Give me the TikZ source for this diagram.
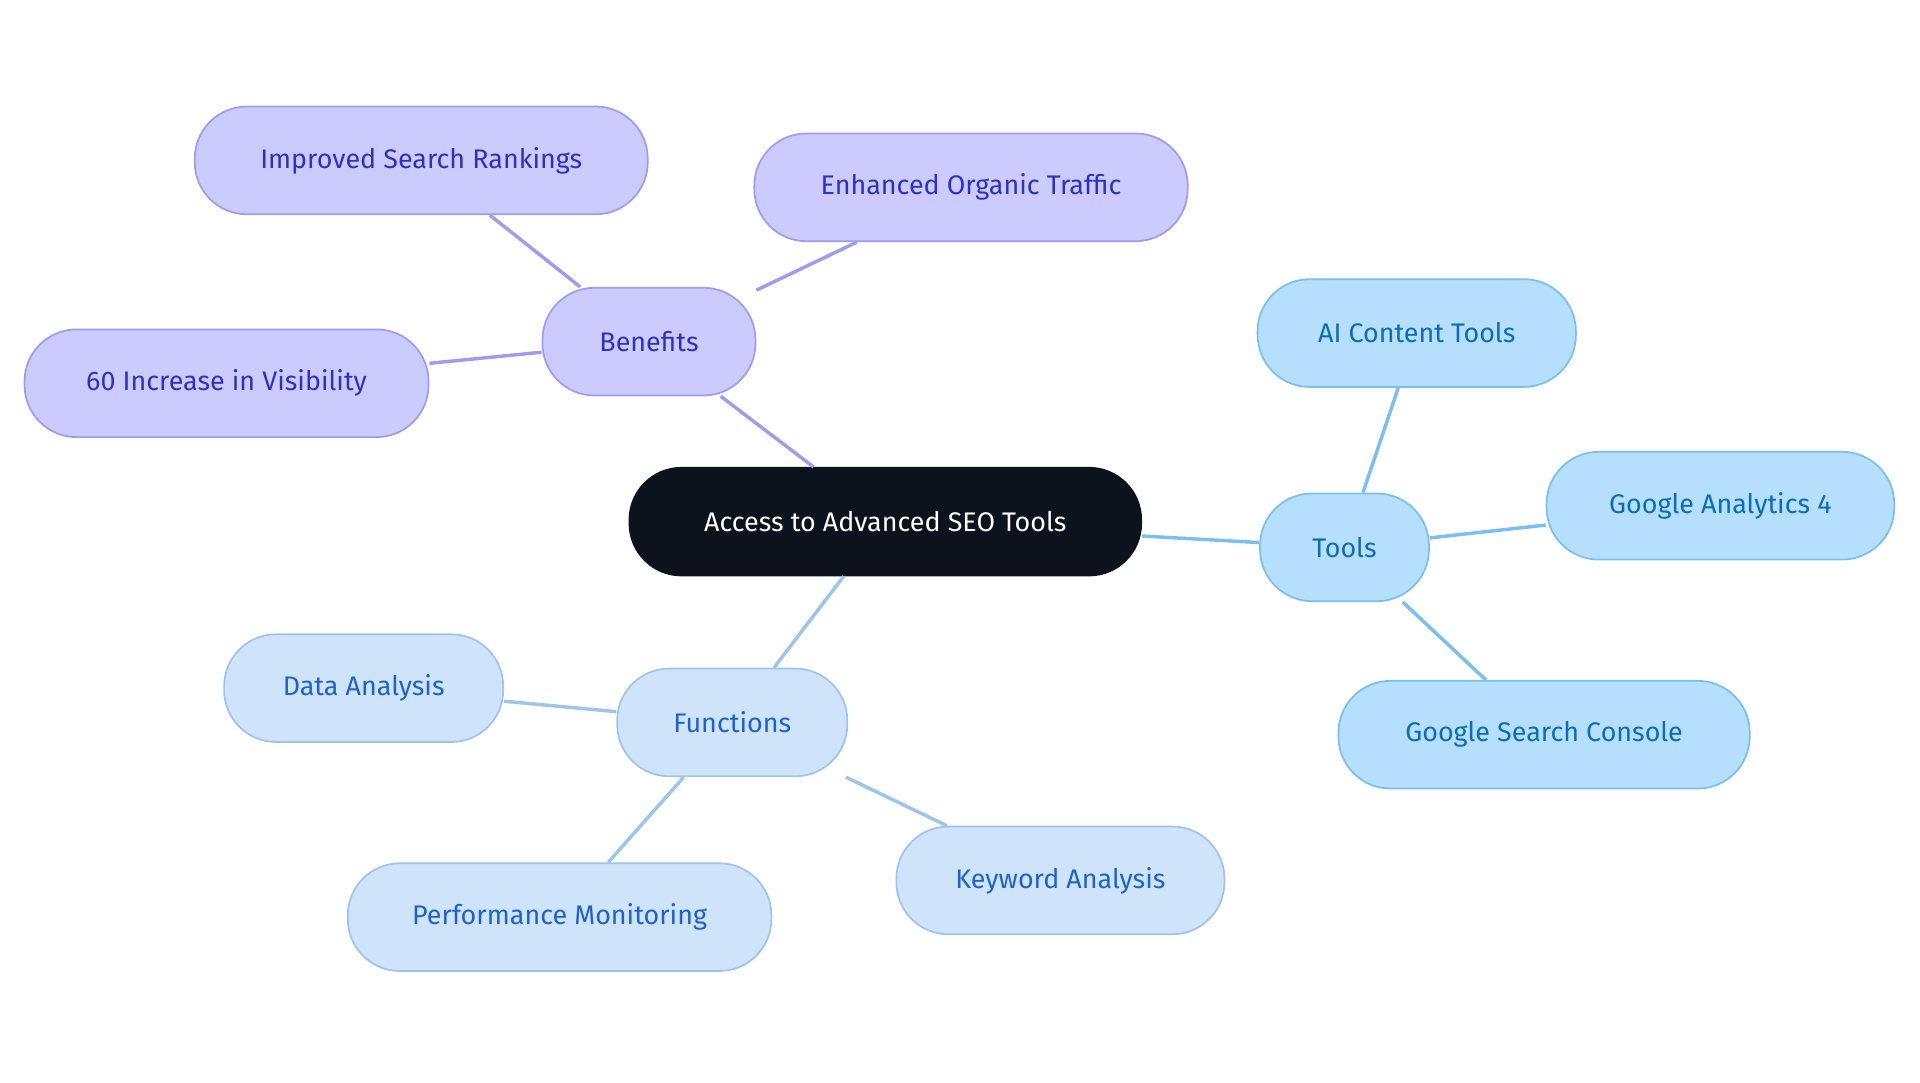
\documentclass[tikz,border=0pt]{standalone}
\usepackage{fontspec}
\setmainfont{Fira Sans}
\definecolor{rootfill}{HTML}{0D131C}
\definecolor{benfill}{HTML}{CBCBFE}
\definecolor{bendraw}{HTML}{9C9CF0}
\definecolor{bentext}{HTML}{3030C0}
\definecolor{toolfill}{HTML}{B5DFFD}
\definecolor{tooldraw}{HTML}{79BFEF}
\definecolor{tooltext}{HTML}{0B6CB8}
\definecolor{funcfill}{HTML}{CFE3FA}
\definecolor{funcdraw}{HTML}{9DC4EF}
\definecolor{functext}{HTML}{1E63C8}
\tikzset{
  pill/.style={rounded corners=0.85cm, minimum height=1.76cm, font=\fontsize{12.5}{15}\selectfont, line width=0.8pt},
  rootnode/.style={pill, fill=rootfill, draw=rootfill, text=white},
  bennode/.style={pill, fill=benfill, draw=bendraw, text=bentext},
  toolnode/.style={pill, fill=toolfill, draw=tooldraw, text=tooltext},
  funcnode/.style={pill, fill=funcfill, draw=funcdraw, text=functext},
  benline/.style={draw=bendraw, line width=1.6pt},
  toolline/.style={draw=tooldraw, line width=1.6pt},
  funcline/.style={draw=funcdraw, line width=1.6pt}
}
\begin{document}
\begin{tikzpicture}[x=0.02cm, y=-0.02cm]
  \useasboundingbox (0,0) rectangle (1568,884);
  \node[rootnode, minimum width=8.36cm] (root) at (723,426) {Access to Advanced SEO Tools};
  \node[bennode, minimum width=3.48cm] (ben) at (530,279) {Benefits};
  \node[bennode, minimum width=7.4cm] (ben1) at (344,131) {Improved Search Rankings};
  \node[bennode, minimum width=7.08cm] (ben2) at (793,153) {Enhanced Organic Traffic};
  \node[bennode, minimum width=6.6cm] (ben3) at (185,313) {60 Increase in Visibility};
  \node[toolnode, minimum width=2.76cm] (tools) at (1098,447) {Tools};
  \node[toolnode, minimum width=5.2cm] (tool1) at (1157,272) {AI Content Tools};
  \node[toolnode, minimum width=5.68cm] (tool2) at (1405,413) {Google Analytics 4};
  \node[toolnode, minimum width=6.72cm] (tool3) at (1261,600) {Google Search Console};
  \node[funcnode, minimum width=3.76cm] (func) at (598,590) {Functions};
  \node[funcnode, minimum width=4.56cm] (func1) at (297,562) {Data Analysis};
  \node[funcnode, minimum width=6.92cm] (func2) at (457,749) {Performance Monitoring};
  \node[funcnode, minimum width=5.36cm] (func3) at (866,719) {Keyword Analysis};
  \begin{scope}[on background layer/.style={}]
  \end{scope}
  \foreach \source/\dest/\kind in {root/ben/benline, ben/ben1/benline, ben/ben2/benline, ben/ben3/benline, root/tools/toolline, tools/tool1/toolline, tools/tool2/toolline, tools/tool3/toolline, root/func/funcline, func/func1/funcline, func/func2/funcline, func/func3/funcline}
    \path[\kind] (\source) -- (\dest);
\end{tikzpicture}
\end{document}
